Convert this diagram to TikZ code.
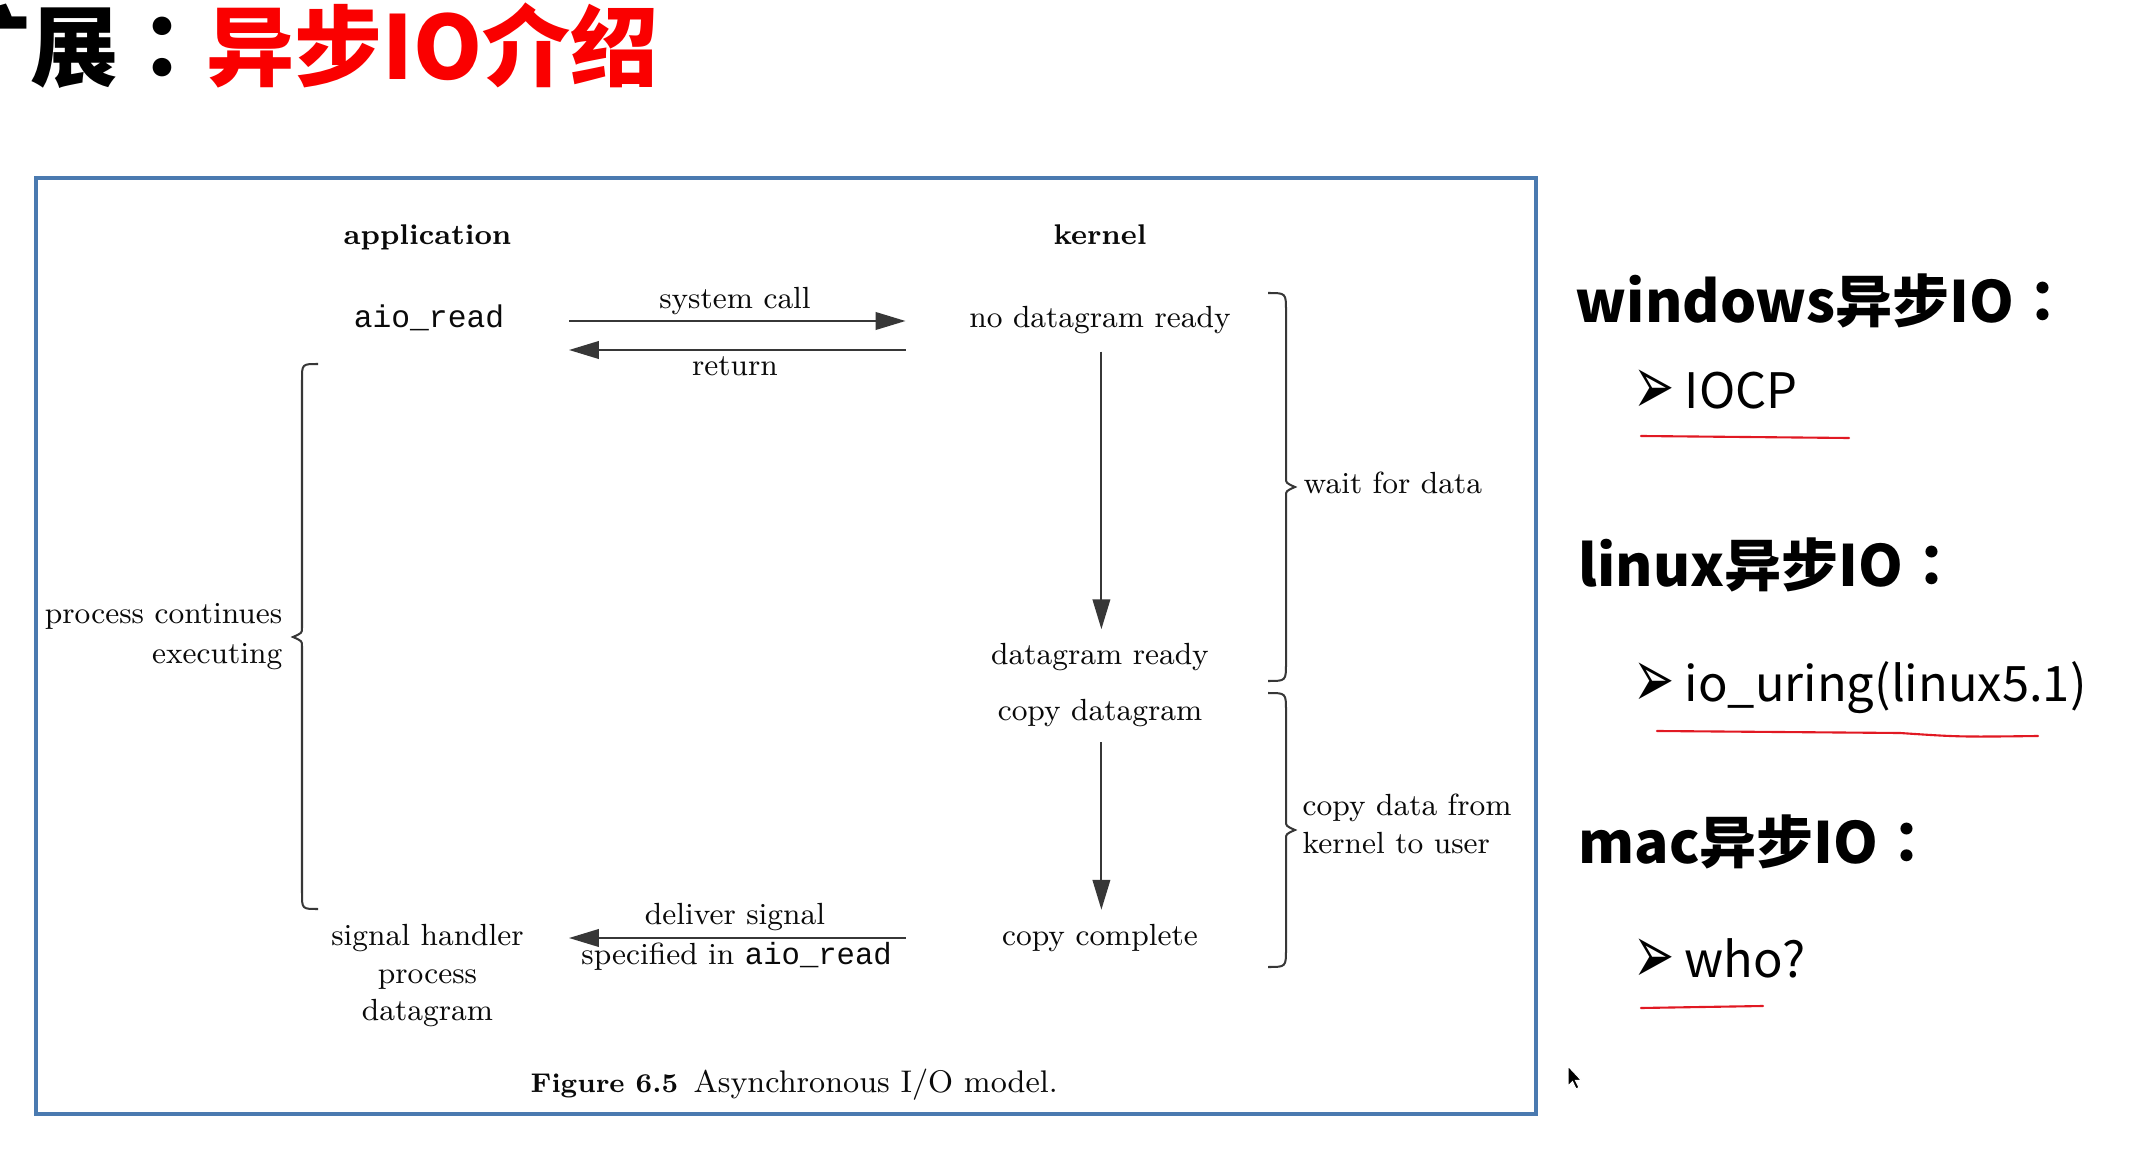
\documentclass[tikz,border=0pt]{standalone}
\usepackage{fontspec}
\usepackage{graphicx}
\usetikzlibrary{arrows.meta}
\newfontfamily\cjk{Noto Sans CJK SC}
\newfontfamily\cjktc{Noto Sans CJK TC}
\newfontfamily\monof{Liberation Mono}
\newfontfamily\dejavu{DejaVu Sans}
\definecolor{framec}{RGB}{74,122,176}
\definecolor{titlered}{RGB}{250,0,0}
\definecolor{penred}{RGB}{225,25,35}
\definecolor{inkc}{RGB}{10,10,10}
\definecolor{linec}{RGB}{55,55,55}
\tikzset{
  dtext/.style={inner sep=0pt, text=inkc, font=\fontsize{8.7}{10.5}\selectfont},
  dbold/.style={inner sep=0pt, text=inkc, font=\bfseries\fontsize{8.1}{10.5}\selectfont},
  dmono/.style={inner sep=0pt, text=inkc, font=\monof\fontsize{8.9}{10.5}\selectfont},
  arr/.style={draw=linec, line width=0.57pt, -{Triangle[length=8.5pt,width=5pt]}},
  bracec/.style={draw=linec, line width=0.57pt},
  frame/.style={draw=framec, line width=0.9pt},
  head/.style={inner sep=0pt, anchor=base west, font=\cjk\bfseries\fontsize{16.2}{18}\selectfont},
  item/.style={inner sep=0pt, anchor=base west, font=\cjk\fontsize{13.9}{16}\selectfont},
  bul/.style={inner sep=0pt, anchor=west, font=\dejavu\fontsize{14}{16}\selectfont},
  penline/.style={draw=penred, line width=0.6pt, line cap=round}
}
\newcommand{\tccolon}{{\cjktc ：}}
\newcommand{\mybul}{\scalebox{1}[1.7]{➢}}
\begin{document}
\begin{tikzpicture}[x=0.01cm,y=-0.01cm]
\useasboundingbox (0,0) rectangle (2135,1173);
\fill[white] (0,0) rectangle (2135,1173);

% title
\node[anchor=base west, inner sep=0pt, font=\cjk\bfseries\fontsize{25}{26}\selectfont] (title) at (-58,80) {扩展\tccolon\textcolor{titlered}{异步IO介绍}};

% frame
\draw[frame] (36,178) rectangle (1536,1114);

% column heads
\node[dbold, anchor=base] (app) at (427.5,245) {application};
\node[dbold, anchor=base] (kern) at (1100,245) {kernel};

% application side
\node[dmono, anchor=base] (aio) at (429,328) {aio\_read};
\node[dtext, anchor=base east] (pc1) at (283,623.6) {process continues};
\node[dtext, anchor=base east] (pc2) at (283,663) {executing};
\node[dtext, anchor=base] (sh1) at (427.5,945) {signal handler};
\node[dtext, anchor=base] (sh2) at (427.5,983) {process};
\node[dtext, anchor=base] (sh3) at (427.5,1020) {datagram};

% kernel side
\node[dtext, anchor=base] (nodr) at (1100,328) {no datagram ready};
\node[dtext, anchor=base] (dr) at (1100,664.5) {datagram ready};
\node[dtext, anchor=base] (cpd) at (1100,720) {copy datagram};
\node[dtext, anchor=base] (cpc) at (1100,945) {copy complete};

% arrow labels
\node[dtext, anchor=base] (sysc) at (735,309) {system call};
\node[dtext, anchor=base] (ret) at (735,376) {return};
\node[dtext, anchor=base] (ds1) at (735,924.5) {deliver signal};
\node[dtext, anchor=base] (ds2) at (736.6,964) {specified in {\monof aio\_read}};

% brace labels
\node[dtext, anchor=base west] (wait) at (1303,493) {wait for data};
\node[dtext, anchor=base west] (cdf1) at (1302,815.6) {copy data from};
\node[dtext, anchor=base west] (cdf2) at (1302,853.7) {kernel to user};

% caption
\node[dtext, anchor=base west, font=\bfseries\fontsize{7.7}{10.5}\selectfont] (fig) at (530,1092) {Figure 6.5};
\node[dtext, anchor=base west, font=\fontsize{8.9}{10.5}\selectfont] (cap) at (693,1092) {Asynchronous I/O model.};

% horizontal arrows
\coordinate (scA) at (569,321);
\coordinate (scB) at (905.5,321);
\coordinate (rtA) at (905.5,350);
\coordinate (rtB) at (569,350);
\coordinate (dsA) at (905.5,938);
\coordinate (dsB) at (569,938);
\draw[arr] (scA) -- (scB);
\draw[arr] (rtA) -- (rtB);
\draw[arr] (dsA) -- (dsB);

% vertical arrows
\draw[arr, shorten <=4.7pt, shorten >=3.8pt] ([xshift=0.4pt]nodr.south) -- ([xshift=0.4pt]dr.north);
\draw[arr, shorten <=4.4pt, shorten >=3.8pt] ([xshift=0.4pt]cpd.south) -- ([xshift=0.4pt]cpc.north);

% braces
\draw[bracec] (318,364) .. controls (302,364) .. (302,380) -- (302,628)
  .. controls (302,633) .. (293,637) .. controls (302,641) .. (302,646)
  -- (302,893) .. controls (302,909) .. (318,909);
\draw[bracec] (1268,293) .. controls (1286,293) .. (1286,311) -- (1286,478)
  .. controls (1286,483) .. (1295,487) .. controls (1286,491) .. (1286,496)
  -- (1286,663) .. controls (1286,681) .. (1268,681);
\draw[bracec] (1268,693) .. controls (1286,693) .. (1286,711) -- (1286,821)
  .. controls (1286,826) .. (1295,830) .. controls (1286,834) .. (1286,839)
  -- (1286,949) .. controls (1286,967) .. (1268,967);

% right panel
\node[head] (hw) at (1575,323) {windows异步IO\tccolon};
\node[head] (hl) at (1578,587) {linux异步IO\tccolon};
\node[head] (hm) at (1578,863) {mac异步IO\tccolon};

\node[bul] (b1) at (1633,392) {\mybul};
\node[item] (i1) at (1684,408.5) {IOCP};
\node[bul] (b2) at (1633,685) {\mybul};
\node[item] (i2) at (1684,701) {io\_uring(linux5.1)};
\node[bul] (b3) at (1633,961) {\mybul};
\node[item] (i3) at (1684,977.6) {who?};

\coordinate (u1a) at (1641,436);
\coordinate (u1b) at (1849,438);
\coordinate (u2a) at (1657,731);
\coordinate (u2m) at (1900,733);
\coordinate (u2b) at (2038,736);
\coordinate (u3a) at (1641,1008);
\coordinate (u3b) at (1763,1006);
\draw[penline] (u1a) -- (u1b);
\draw[penline] (u2a) -- (u2m) .. controls (1960,737) .. (u2b);
\draw[penline] (u3a) -- (u3b);

% mouse cursor
\fill[black, draw=white, line width=0.3pt] (1568,1066) -- (1568,1086) -- (1572.5,1081.5) -- (1576,1089) -- (1579,1087.5) -- (1575.5,1080.5) -- (1581.5,1080.5) -- cycle;
\end{tikzpicture}
\end{document}
